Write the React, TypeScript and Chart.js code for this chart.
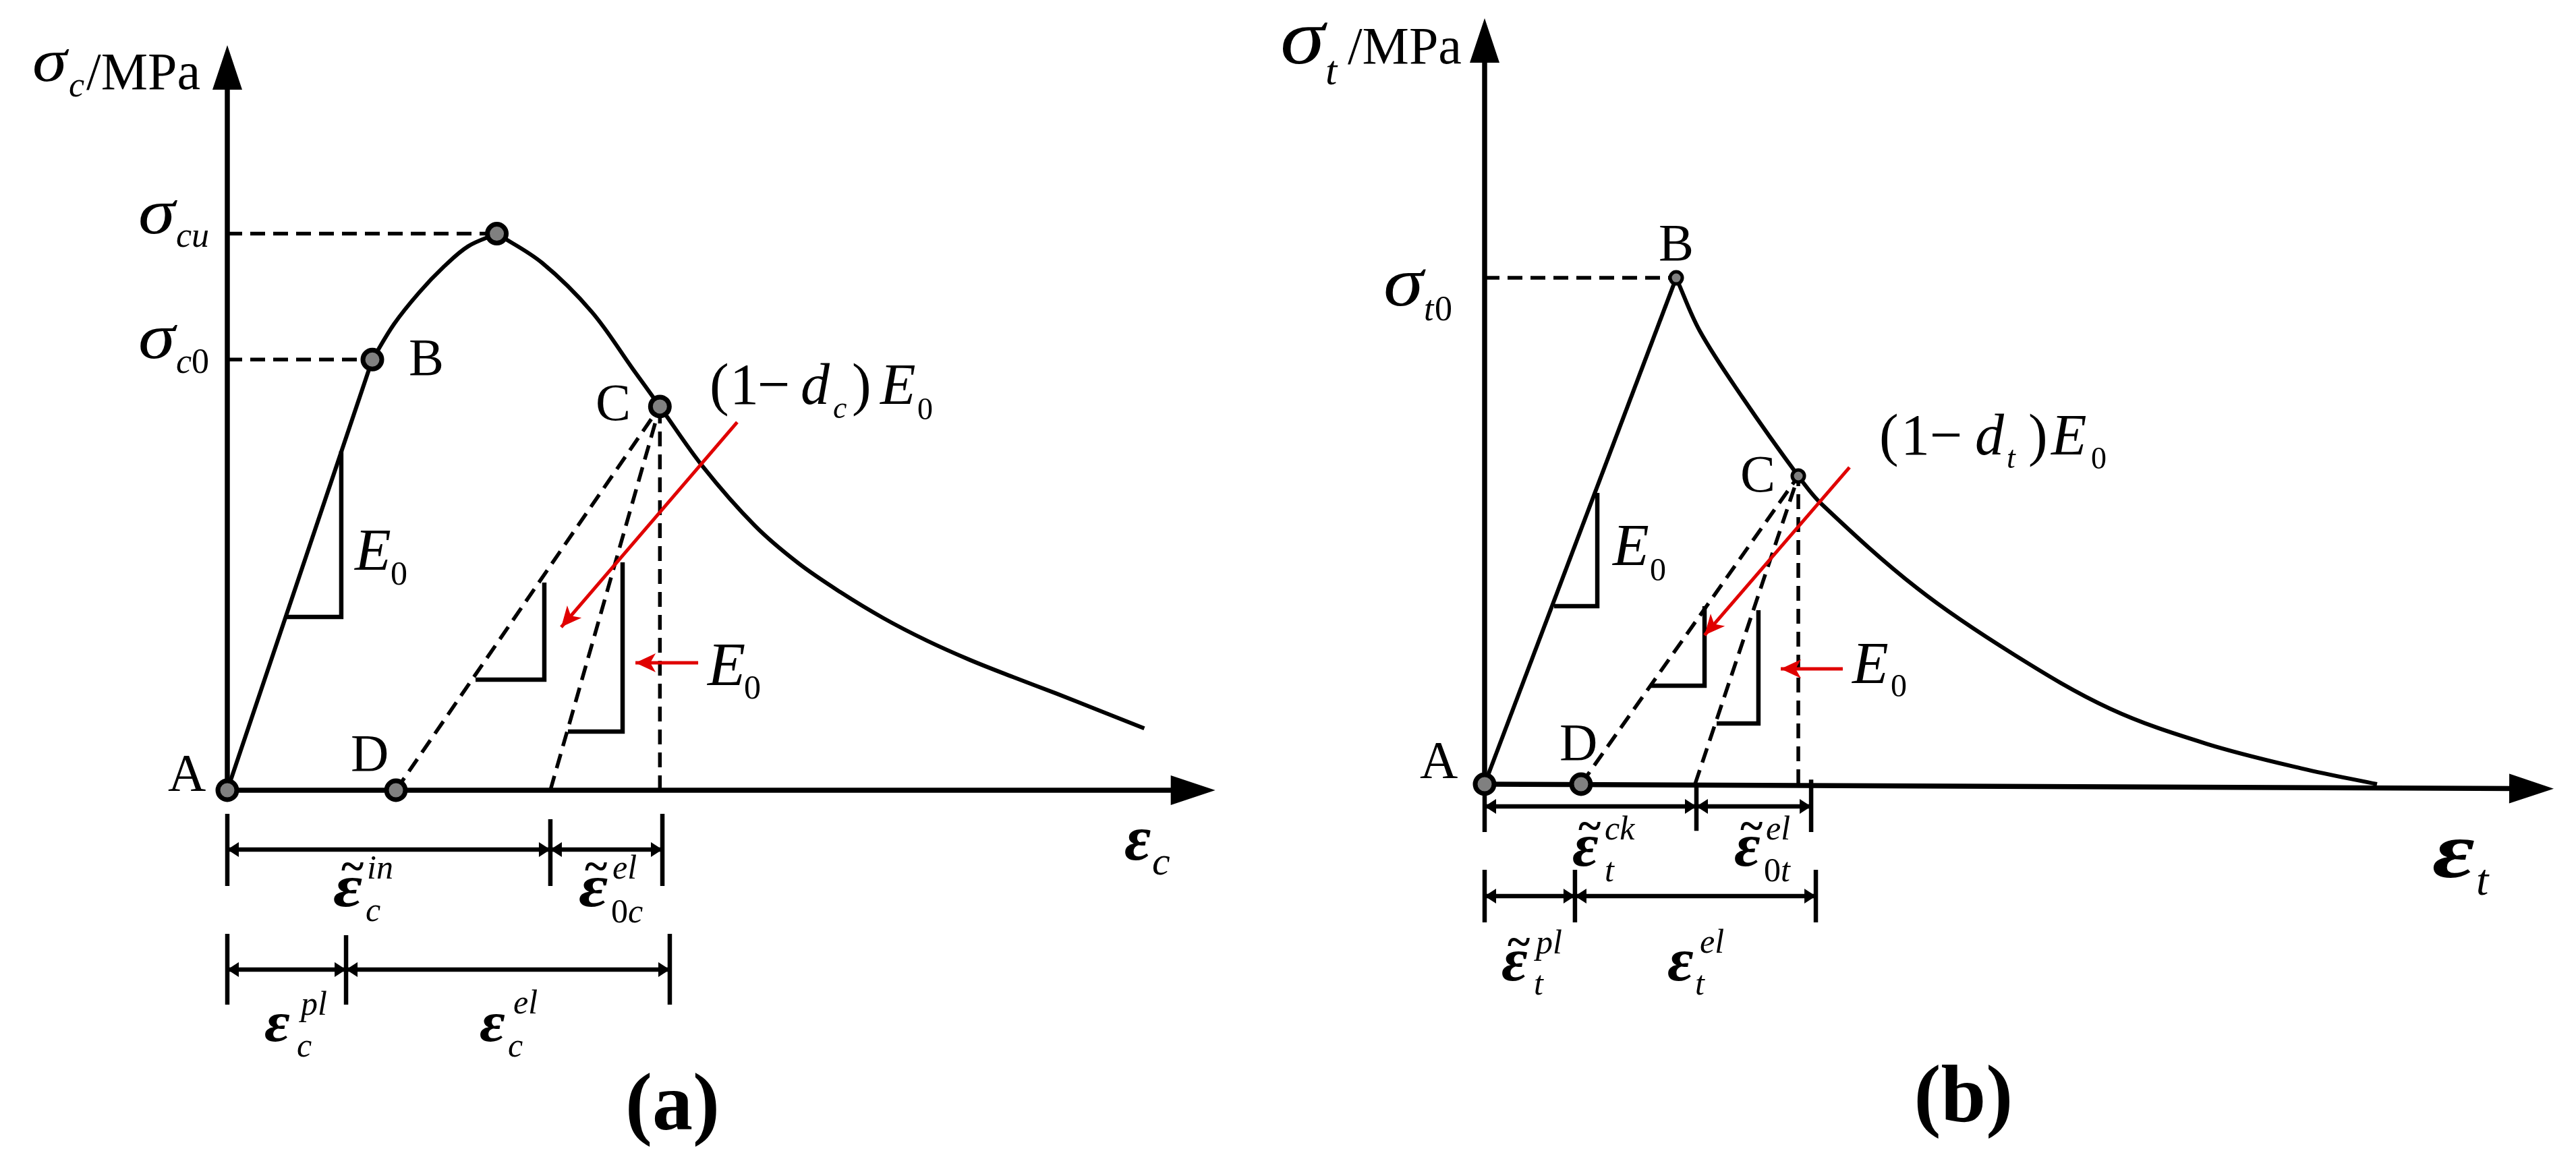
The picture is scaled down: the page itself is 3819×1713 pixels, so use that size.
import { useEffect, useRef } from 'react';
import { Chart, registerables } from 'chart.js';

Chart.register(...registerables);

const W = 3819;
const H = 1713;
const RED = '#e00000';
const SERIF = '"Liberation Serif", "Times New Roman", serif';

// ================= Panel (a): compression =================
const compLoadX = [0, 1.512]; // A -> B, slope E0
const compLoadY = [0, 5.78];
const compRiseX = [1.512, 1.74, 2.0, 2.26, 2.51, 2.81];
const compRiseY = [5.78, 6.26, 6.68, 7.03, 7.30, 7.47];
const compFallX = [2.81, 3.28, 3.80, 4.23, 4.51, 4.96, 5.50, 5.95, 6.39, 6.84, 7.29, 7.74, 8.19, 8.64, 9.09, 9.56];
const compFallY = [7.47, 7.08, 6.42, 5.65, 5.15, 4.34, 3.55, 3.05, 2.66, 2.31, 2.01, 1.75, 1.52, 1.30, 1.07, 0.83];
const compPointX = [0, 1.758, 1.512, 2.81, 4.51]; // A, D, B, peak, C
const compPointY = [0, 0, 5.78, 7.47, 5.15];
const compPointR = [14, 14, 14, 14, 14];
const compPointBW = [7, 7, 7, 7, 7];
const compDashed = [
  [0, 7.47, 2.81, 7.47],
  [0, 5.78, 1.512, 5.78],
  [1.758, 0, 4.51, 5.15],
  [3.368, 0, 4.51, 5.15],
  [4.51, 0, 4.51, 5.15],
];
const compSlopeMarks = [
  [1.188, 4.552, 1.188, 2.326, 0.612, 2.326],
  [3.305, 2.787, 3.305, 1.484, 2.588, 1.484],
  [4.121, 3.059, 4.121, 0.787, 3.551, 0.787],
];
const compRed = [
  [5.316, 4.941, 3.481, 2.19],
  [4.909, 1.71, 4.255, 1.71],
];
const compDimRowY = [-0.796, -2.407];
const compDimRowX = [
  [0, 3.368, 4.536],
  [0, 1.238, 4.613],
];
const compDimTickTop = [
  [-0.317, -0.389, -0.317],
  [-1.928, -1.946, -1.928],
];
const compDimTickBot = [
  [-1.285, -1.285, -1.285],
  [-2.878, -2.878, -2.878],
];
const compAxisTip = [10.3, 10, 0]; // x-tip, y-tip, x-axis end level
const compAxisShaft = [9.9, 9.45];

// ================= Panel (b): tension =================
const tensLoadX = [0, 1.792];
const tensLoadY = [0, 6.61];
const tensFallX = [1.792, 2.013, 2.41, 2.934, 3.148, 4.05, 4.953, 5.849, 6.751, 7.653, 8.347];
const tensFallY = [6.61, 5.915, 5.053, 4.023, 3.662, 2.553, 1.69, 0.986, 0.528, 0.202, 0.0];
const tensPointX = [0, 0.902, 1.792, 2.934]; // A, D, B, C
const tensPointY = [0, 0, 6.61, 4.023];
const tensPointR = [14, 14, 9, 9];
const tensPointBW = [7, 7, 5, 5];
const tensDashed = [
  [0, 6.61, 1.792, 6.61],
  [0.902, 0, 2.934, 4.023],
  [1.968, 0, 2.934, 4.023],
  [2.934, 0, 2.934, 4.023],
];
const tensSlopeMarks = [
  [1.054, 3.803, 1.054, 2.324, 0.65, 2.324],
  [2.057, 2.324, 2.057, 1.285, 1.546, 1.285],
  [2.561, 2.271, 2.561, 0.792, 2.17, 0.792],
];
const tensRed = [
  [3.413, 4.137, 2.057, 1.945],
  [3.35, 1.505, 2.77, 1.505],
];
const tensDimRowY = [-0.29, -1.461];
const tensDimRowX = [
  [0, 1.981, 3.054],
  [0, 0.845, 3.098],
];
const tensDimTickTop = [
  [-0.08, -0.02, 0.06],
  [-1.118, -1.118, -1.118],
];
const tensDimTickBot = [
  [-0.625, -0.61, -0.625],
  [-1.805, -1.805, -1.805],
];
const tensAxisTip = [10, 10, -0.06];
const tensAxisShaft = [9.65, 9.48];

// ================= Labels (anchor in data units, runs offset in px) =================
type Run = [string, number, string, number, number, number?];
type Label = { x: number; y: number; runs: Run[]; center?: boolean };

const compLabels: Label[] = [
  { x: -2.032, y: 9.52, runs: [['σ', 90, 'i', 0, 0, 1.15], ['c', 52, 'i', 54, 23], ['/MPa', 78, 'r', 80, 12]] },
  { x: -0.928, y: 7.475, runs: [['σ', 96, 'i', 0, 0, 1.15], ['cu', 52, 'i', 56, 20]] },
  { x: -0.928, y: 5.801, runs: [['σ', 96, 'i', 0, 0, 1.15], ['c', 52, 'i', 56, 22], ['0', 52, 'r', 79, 22]] },
  { x: 1.892, y: 5.575, runs: [['B', 78, 'r', 0, 0]] },
  { x: 3.84, y: 4.968, runs: [['C', 78, 'r', 0, 0]] },
  { x: -0.619, y: 0, runs: [['A', 78, 'r', 0, 0]] },
  { x: 1.287, y: 0.262, runs: [['D', 78, 'r', 0, 0]] },
  { x: 1.329, y: 2.959, runs: [['E', 88, 'i', 0, 0], ['0', 50, 'r', 53, 22]] },
  { x: 5.007, y: 1.412, runs: [['E', 92, 'i', 0, 0], ['0', 50, 'r', 54, 20]] },
  {
    x: 5.028, y: 5.186, runs: [
      ['(', 86, 'r', 0, 0], ['1', 86, 'r', 30, 0], ['−', 86, 'r', 71, 0], ['d', 86, 'i', 135, 0],
      ['c', 46, 'i', 183, 21], [')', 86, 'r', 211, 0], ['E', 86, 'i', 253, 0], ['0', 46, 'r', 308, 23],
    ],
  },
  { x: 9.353, y: -0.932, runs: [['ε', 96, 'bi', 0, 0], ['c', 60, 'i', 41, 22]] },
  { x: 1.104, y: -1.557, runs: [['ε', 88, 'bi', 0, 0, 1.2], ['~', 64, 'b', 12, -38], ['in', 50, 'i', 50, -41], ['c', 50, 'i', 48, 22]] },
  { x: 3.664, y: -1.557, runs: [['ε', 88, 'bi', 0, 0, 1.2], ['~', 64, 'b', 9, -38], ['el', 50, 'i', 50, -41], ['0', 50, 'r', 48, 24], ['c', 50, 'i', 73, 24]] },
  { x: 0.387, y: -3.367, runs: [['ε', 84, 'bi', 0, 0, 1.1], ['pl', 50, 'i', 54, -39], ['c', 50, 'i', 48, 23]] },
  { x: 2.63, y: -3.367, runs: [['ε', 84, 'bi', 0, 0, 1.1], ['el', 50, 'i', 50, -41], ['c', 50, 'i', 42, 23]] },
  { x: 4.641, y: -4.552, center: true, runs: [['(a)', 120, 'b', 0, 0]] },
];

const tensLabels: Label[] = [
  { x: -1.912, y: 9.41, runs: [['σ', 116, 'i', 0, 0, 1.15], ['t', 62, 'i', 67, 31], ['/MPa', 78, 'r', 100, 0]] },
  { x: -0.946, y: 6.25, runs: [['σ', 104, 'i', 0, 0, 1.15], ['t', 52, 'i', 60, 22], ['0', 52, 'r', 76, 22]] },
  { x: 1.628, y: 6.84, runs: [['B', 78, 'r', 0, 0]] },
  { x: 2.391, y: 3.82, runs: [['C', 78, 'r', 0, 0]] },
  { x: -0.606, y: 0.088, runs: [['A', 78, 'r', 0, 0]] },
  { x: 0.7, y: 0.317, runs: [['D', 78, 'r', 0, 0]] },
  { x: 1.199, y: 2.861, runs: [['E', 88, 'i', 0, 0], ['0', 48, 'r', 55, 23]] },
  { x: 3.438, y: 1.32, runs: [['E', 88, 'i', 0, 0], ['0', 48, 'r', 57, 20]] },
  {
    x: 3.691, y: 4.305, runs: [
      ['(', 86, 'r', 0, 0], ['1', 86, 'r', 32, 0], ['−', 86, 'r', 75, 0], ['d', 86, 'i', 142, 0],
      ['t', 46, 'i', 189, 20], [')', 86, 'r', 221, 0], ['E', 86, 'i', 255, 0], ['0', 46, 'r', 314, 21],
    ],
  },
  { x: 8.864, y: -1.215, runs: [['ε', 118, 'bi', 0, 0, 1.3], ['t', 66, 'i', 65, 26]] },
  { x: 0.82, y: -1.065, runs: [['ε', 90, 'bi', 0, 0, 1.05], ['~', 64, 'b', 9, -38], ['ck', 50, 'i', 48, -39], ['t', 50, 'i', 48, 23]] },
  { x: 2.334, y: -1.065, runs: [['ε', 90, 'bi', 0, 0, 1.05], ['~', 64, 'b', 9, -38], ['el', 50, 'i', 47, -39], ['0', 50, 'r', 44, 23], ['t', 50, 'i', 69, 23]] },
  { x: 0.158, y: -2.562, runs: [['ε', 90, 'bi', 0, 0, 1.05], ['~', 64, 'b', 9, -36], ['pl', 50, 'i', 51, -40], ['t', 50, 'i', 48, 21]] },
  { x: 1.71, y: -2.562, runs: [['ε', 90, 'bi', 0, 0, 1.05], ['el', 50, 'i', 48, -41], ['t', 50, 'i', 41, 21]] },
  { x: 4.479, y: -4.401, center: true, runs: [['(b)', 120, 'b', 0, 0]] },
];

// ================= Layout (pixel frame of each panel) =================
const FRAME_A = { left: 337, bottom: 1172, pxX: 142.2, pxY: 110.5 };
const FRAME_B = { left: 2201, bottom: 1163, pxX: 158.5, pxY: 113.6 };

function rangeOf(f: { left: number; bottom: number; pxX: number; pxY: number }) {
  return {
    xmin: -f.left / f.pxX,
    xmax: (W - f.left) / f.pxX,
    ymin: -(H - f.bottom) / f.pxY,
    ymax: f.bottom / f.pxY,
  };
}

type Pt = { x: number; y: number };
const pts = (xs: number[], ys: number[]): Pt[] => xs.map((x, i) => ({ x, y: ys[i] }));

type Arrow = { tip: Pt; from: Pt; len: number; hw: number; notch: number; color: string };

type PanelDef = {
  xId: string; yId: string;
  loadX: number[]; loadY: number[];
  curves: [number[], number[]][];
  pointX: number[]; pointY: number[]; pointR: number[]; pointBW: number[];
  dashed: number[][]; slope: number[][]; red: number[][];
  dimY: number[]; dimX: number[][]; dimTop: number[][]; dimBot: number[][];
  tip: number[]; shaft: number[];
  labels: Label[];
};

const PANELS: PanelDef[] = [
  {
    xId: 'xa', yId: 'ya', loadX: compLoadX, loadY: compLoadY,
    curves: [[compRiseX, compRiseY], [compFallX, compFallY]],
    pointX: compPointX, pointY: compPointY, pointR: compPointR, pointBW: compPointBW,
    dashed: compDashed, slope: compSlopeMarks, red: compRed,
    dimY: compDimRowY, dimX: compDimRowX, dimTop: compDimTickTop, dimBot: compDimTickBot,
    tip: compAxisTip, shaft: compAxisShaft, labels: compLabels,
  },
  {
    xId: 'xb', yId: 'yb', loadX: tensLoadX, loadY: tensLoadY,
    curves: [[tensFallX, tensFallY]],
    pointX: tensPointX, pointY: tensPointY, pointR: tensPointR, pointBW: tensPointBW,
    dashed: tensDashed, slope: tensSlopeMarks, red: tensRed,
    dimY: tensDimRowY, dimX: tensDimRowX, dimTop: tensDimTickTop, dimBot: tensDimTickBot,
    tip: tensAxisTip, shaft: tensAxisShaft, labels: tensLabels,
  },
];

function arrowsOf(p: PanelDef): Arrow[] {
  const out: Arrow[] = [];
  out.push({ tip: { x: p.tip[0], y: p.tip[2] }, from: { x: 0, y: 0 }, len: 66, hw: 22, notch: 0, color: '#000' });
  out.push({ tip: { x: 0, y: p.tip[1] }, from: { x: 0, y: 0 }, len: 66, hw: 22, notch: 0, color: '#000' });
  p.red.forEach((s) => out.push({ tip: { x: s[2], y: s[3] }, from: { x: s[0], y: s[1] }, len: 30, hw: 14, notch: 8, color: RED }));
  p.dimX.forEach((row, r) => {
    const y = p.dimY[r];
    for (let i = 0; i < row.length - 1; i++) {
      const a = { x: row[i], y };
      const b = { x: row[i + 1], y };
      out.push({ tip: a, from: b, len: 17, hw: 11, notch: 0, color: '#000' });
      out.push({ tip: b, from: a, len: 17, hw: 11, notch: 0, color: '#000' });
    }
  });
  return out;
}

function datasetsOf(p: PanelDef) {
  const ax = { xAxisID: p.xId, yAxisID: p.yId };
  const base = { showLine: true, pointRadius: 0, pointHoverRadius: 0, borderColor: '#000', borderWidth: 5, tension: 0, clip: false, order: 5, fill: false, ...ax };
  const seg = (s: number[]) => [{ x: s[0], y: s[1] }, { x: s[2], y: s[3] }];
  const ds: any[] = [];
  ds.push({
    ...ax, data: pts(p.pointX, p.pointY), showLine: false, pointRadius: p.pointR, pointHoverRadius: p.pointR,
    pointBorderWidth: p.pointBW, pointBackgroundColor: '#808080', pointBorderColor: '#000', order: 0, clip: false,
  });
  p.red.forEach((s) => ds.push({ ...base, data: seg(s), borderColor: RED, borderWidth: 5, order: 1 }));
  const xEndY = p.tip[2] * (p.shaft[0] / p.tip[0]);
  ds.push({ ...base, data: [{ x: 0, y: 0 }, { x: p.shaft[0], y: xEndY }], borderWidth: 7.5 });
  ds.push({ ...base, data: [{ x: 0, y: 0 }, { x: 0, y: p.shaft[1] }], borderWidth: 7.5 });
  ds.push({ ...base, data: pts(p.loadX, p.loadY), borderWidth: 6 });
  p.curves.forEach(([xs, ys]) => ds.push({ ...base, data: pts(xs, ys), borderWidth: 6, tension: 0.35 }));
  p.dashed.forEach((s) => ds.push({ ...base, data: seg(s), borderDash: [22, 12], borderWidth: 5.5 }));
  p.slope.forEach((s) => ds.push({
    ...base, data: [{ x: s[0], y: s[1] }, { x: s[2], y: s[3] }, { x: s[4], y: s[5] }], borderWidth: 6.5, borderJoinStyle: 'miter',
  }));
  p.dimX.forEach((row, r) => {
    const y = p.dimY[r];
    ds.push({ ...base, data: [{ x: row[0], y }, { x: row[row.length - 1], y }], borderWidth: 6.5 });
    row.forEach((x, i) => ds.push({ ...base, data: [{ x, y: p.dimTop[r][i] }, { x, y: p.dimBot[r][i] }], borderWidth: 6.5 }));
  });
  return ds;
}

const STYLE: Record<string, string> = { r: 'normal', i: 'italic', b: 'bold', bi: 'italic bold' };

function drawHead(ctx: CanvasRenderingContext2D, tip: Pt, from: Pt, a: Arrow) {
  const ang = Math.atan2(tip.y - from.y, tip.x - from.x);
  ctx.save();
  ctx.translate(tip.x, tip.y);
  ctx.rotate(ang);
  ctx.beginPath();
  ctx.moveTo(0, 0);
  ctx.lineTo(-a.len, -a.hw);
  ctx.lineTo(-a.len + a.notch, 0);
  ctx.lineTo(-a.len, a.hw);
  ctx.closePath();
  ctx.fillStyle = a.color;
  ctx.fill();
  ctx.restore();
}

const diagramPlugin = {
  id: 'diagram',
  afterDatasetsDraw(chart: any) {
    const ctx: CanvasRenderingContext2D = chart.ctx;
    for (const p of PANELS) {
      const xs = chart.scales[p.xId];
      const ys = chart.scales[p.yId];
      const px = (q: Pt): Pt => ({ x: xs.getPixelForValue(q.x), y: ys.getPixelForValue(q.y) });
      for (const a of arrowsOf(p)) drawHead(ctx, px(a.tip), px(a.from), a);
      for (const l of p.labels) {
        const o = px({ x: l.x, y: l.y });
        for (const r of l.runs) {
          const [t, size, st, dx, dy, sx] = r;
          ctx.save();
          ctx.font = `${STYLE[st]} ${size}px ${SERIF}`;
          ctx.fillStyle = '#000';
          ctx.textBaseline = 'alphabetic';
          ctx.textAlign = l.center ? 'center' : 'left';
          ctx.translate(o.x + dx, o.y + dy);
          ctx.scale(sx ?? 1, 1);
          ctx.fillText(t, 0, 0);
          ctx.restore();
        }
      }
    }
  },
};

export default function App() {
  const ref = useRef<HTMLCanvasElement>(null);
  useEffect(() => {
    const ra = rangeOf(FRAME_A);
    const rb = rangeOf(FRAME_B);
    const datasets = [...datasetsOf(PANELS[0]), ...datasetsOf(PANELS[1])];
    const chart = new Chart(ref.current as HTMLCanvasElement, {
      type: 'scatter',
      data: { datasets },
      options: {
        responsive: false,
        animation: false,
        devicePixelRatio: 1,
        events: [],
        layout: { padding: 0, autoPadding: false },
        plugins: { legend: { display: false }, tooltip: { enabled: false }, title: { display: false } },
        scales: {
          xa: { type: 'linear', axis: 'x', position: 'bottom', display: false, min: ra.xmin, max: ra.xmax },
          ya: { type: 'linear', axis: 'y', position: 'left', display: false, min: ra.ymin, max: ra.ymax },
          xb: { type: 'linear', axis: 'x', position: 'bottom', display: false, min: rb.xmin, max: rb.xmax },
          yb: { type: 'linear', axis: 'y', position: 'left', display: false, min: rb.ymin, max: rb.ymax },
        },
      } as any,
      plugins: [diagramPlugin],
    });
    return () => chart.destroy();
  }, []);
  return (
    <div style={{ position: 'absolute', left: 0, top: 0, width: W, height: H, background: '#fff' }}>
      <canvas ref={ref} width={W} height={H} style={{ display: 'block', width: W, height: H }} />
    </div>
  );
}
